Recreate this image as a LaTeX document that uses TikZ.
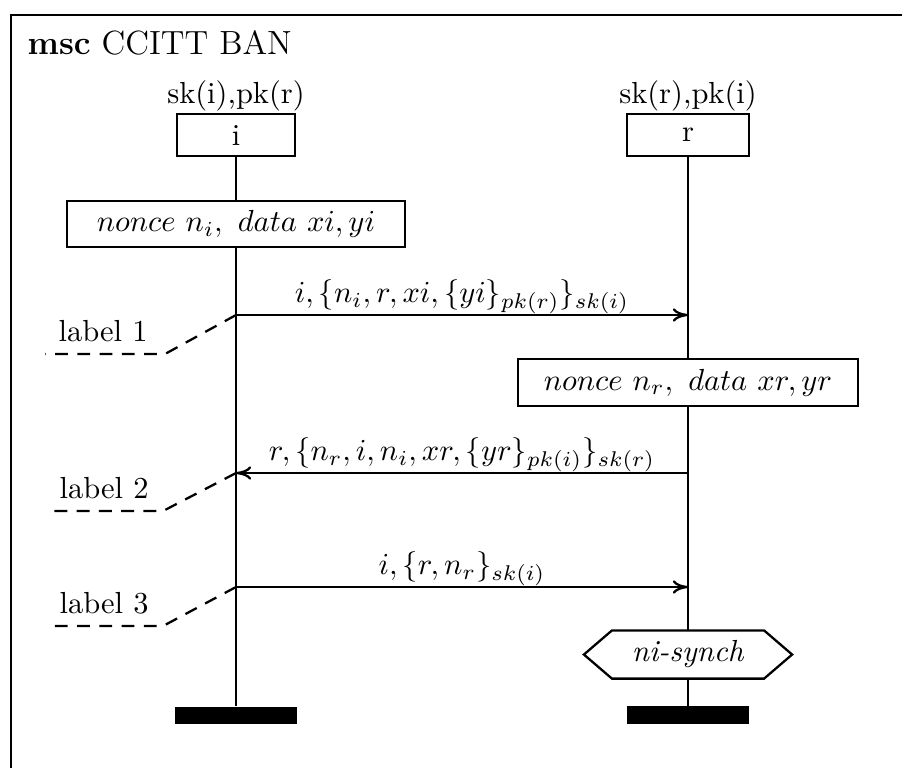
\documentclass[tikz,border=0pt]{standalone}
\usetikzlibrary{arrows.meta}
\begin{document}
\begin{tikzpicture}[x=0.328pt,y=-0.328pt,
  lw/.style={line width=0.75pt},
  framestyle/.style={line width=0.9pt},
  instbox/.style={draw,lw,fill=white,minimum width=#1,minimum height=13.8pt,inner sep=0pt},
  actbox/.style={draw,lw,fill=white,minimum width=#1,minimum height=15.3pt,inner sep=0pt},
  stopbar/.style={fill=black,minimum width=39.7pt,minimum height=5.6pt,inner sep=0pt},
  msg/.style={lw,-{To[length=5pt,width=4.4pt]}},
  msglabel/.style={anchor=base,yshift=4.1pt},
  comment/.style={lw,dash pattern=on 4.2pt off 3.1pt},
  plain/.style={inner sep=0pt}
]
\useasboundingbox (0,0) rectangle (902,768);

% diagram frame (open at right and bottom)
\draw[framestyle] (11,768) -- (11,15) -- (902,15);
\node[plain,anchor=base west] (title) at (27,54.5) {\fontsize{11}{13}\selectfont\textbf{msc} CCITT BAN};

% instance heads
\node[plain,anchor=base] (keysi) at (236,103) {sk(i),pk(r)};
\node[plain,anchor=base] (keysr) at (688,103) {sk(r),pk(i)};
\node[instbox=38.7pt] (i) at (236,135) {i};
\node[instbox=40pt] (r) at (688,135) {r};

% actions
\node[actbox=110.9pt] (acti) at (236,224) {$nonce\ n_i,\ data\ xi, yi$};
\node[actbox=111.5pt] (actr) at (688,382.5) {$nonce\ n_r,\ data\ xr, yr$};

% condition
\node[plain,minimum width=49.5pt,minimum height=15.4pt] (sync) at (688,654.5) {\textit{ni-synch}};
\draw[lw] (sync.north west) -- (sync.north east) -- ([xshift=9.2pt]sync.east)
  -- (sync.south east) -- (sync.south west) -- ([xshift=-9.2pt]sync.west) -- cycle;

% instance ends
\node[stopbar] (endi) at (236,715.5) {};
\node[stopbar] (endr) at (688,715) {};

% lifelines
\draw[lw] (i.south) -- (acti.north);
\draw[lw] (acti.south) -- (endi.north);
\draw[lw] (r.south) -- (actr.north);
\draw[lw] (actr.south) -- (sync.north);
\draw[lw] (sync.south) -- (endr.north);

% message points on the lifelines
\coordinate (m1i) at (236,315);
\coordinate (m1r) at (688,315);
\coordinate (m2i) at (236,473);
\coordinate (m2r) at (688,473);
\coordinate (m3i) at (236,587);
\coordinate (m3r) at (688,587);

% messages
\draw[msg] (m1i) -- node[msglabel] {$i,\{n_i,r,xi,\{yi\}_{pk(r)}\}_{sk(i)}$} (m1r);
\draw[msg] (m2r) -- node[msglabel] {$r,\{n_r,i,n_i,xr,\{yr\}_{pk(i)}\}_{sk(r)}$} (m2i);
\draw[msg] (m3i) -- node[msglabel] {$i,\{r,n_r\}_{sk(i)}$} (m3r);

% labels
\coordinate (c1b) at (165,354);
\coordinate (c1a) at (45,354);
\coordinate (c2b) at (163,511);
\coordinate (c2a) at (45,511);
\coordinate (c3b) at (163,626);
\coordinate (c3a) at (47,626);
\draw[comment] (m1i) -- (c1b) -- (c1a);
\draw[comment] (m2i) -- (c2b) -- (c2a);
\draw[comment] (m3i) -- (c3b) -- (c3a);
\node[plain,anchor=base west] (lab1) at (58,341) {label 1};
\node[plain,anchor=base west] (lab2) at (59,498) {label 2};
\node[plain,anchor=base west] (lab3) at (59,613) {label 3};
\end{tikzpicture}
\end{document}
